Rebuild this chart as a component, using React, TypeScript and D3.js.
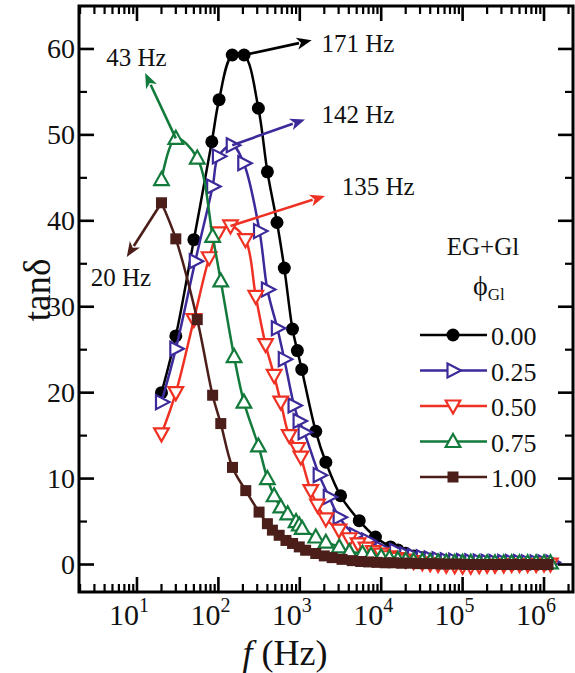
import React from "react";
import * as d3 from "d3";

// ---------- data ----------
const SERIES_NAMES = ["0.00", "0.25", "0.50", "0.75", "1.00"];

const F_000 = [20, 30, 50, 83, 102, 148, 207, 310, 400, 525, 645, 813, 933, 1057, 1570, 2090, 3170, 5370, 8500, 13000, 16000, 20000, 25000, 32000, 40000, 50000, 63000, 80000, 1e5, 1.26e5, 1.6e5, 2e5, 2.5e5, 3.2e5, 4e5, 5e5, 6.3e5, 8e5, 1e6, 1.2e6];
const V_000 = [20.0, 26.6, 37.8, 49.2, 54.1, 59.3, 59.3, 53.1, 45.7, 39.8, 34.5, 27.4, 24.9, 22.7, 15.5, 11.9, 8.0, 5.1, 3.2, 2.05, 1.7, 1.3, 1.0, 0.8, 0.6, 0.5, 0.4, 0.35, 0.3, 0.28, 0.25, 0.25, 0.22, 0.2, 0.2, 0.2, 0.18, 0.18, 0.15, 0.15];

const F_025 = [20, 30, 52, 85, 100, 148, 205, 320, 400, 530, 645, 850, 980, 1130, 1730, 2300, 3040, 4850, 6800, 10000, 15000, 20000, 25000, 32000, 40000, 50000, 63000, 80000, 1e5, 1.26e5, 1.6e5, 2e5, 2.5e5, 3.2e5, 4e5, 5e5, 6.3e5, 8e5, 1e6, 1.25e6];
const V_025 = [18.9, 25.1, 35.3, 44.0, 47.5, 48.8, 46.7, 38.8, 32.0, 27.5, 23.9, 18.5, 16.7, 15.4, 10.4, 7.85, 5.5, 3.4, 2.8, 1.86, 1.6, 1.2, 1.0, 0.85, 0.7, 0.6, 0.5, 0.45, 0.4, 0.38, 0.35, 0.32, 0.3, 0.3, 0.28, 0.28, 0.25, 0.25, 0.25, 0.25];

const F_050 = [20, 30, 50, 77, 100, 141, 215, 288, 380, 484, 583, 741, 940, 1030, 1365, 1650, 2090, 3030, 4060, 5200, 6500, 8000, 10000, 12600, 16000, 20000, 25000, 32000, 40000, 50000, 63000, 80000, 1e5, 1.26e5, 1.6e5, 2e5, 2.5e5, 3.2e5, 4e5, 5e5, 6.3e5, 8e5, 1e6, 1.2e6];
const V_050 = [15.2, 20.0, 28.5, 35.7, 38.6, 39.4, 37.8, 31.2, 25.6, 22.0, 18.9, 15.0, 13.5, 12.5, 8.6, 6.9, 5.3, 4.0, 3.0, 2.4, 1.9, 1.5, 1.2, 0.9, 0.7, 0.5, 0.35, 0.2, 0.1, 0.0, -0.1, -0.15, -0.2, -0.2, -0.15, -0.1, -0.1, -0.05, 0, 0, 0, 0, 0.05, 0.05];

const F_075 = [20, 30, 55, 85, 107, 156, 206, 310, 400, 484, 585, 710, 900, 985, 1070, 1570, 2090, 3050, 4060, 5900, 7500, 10000, 12600, 16000, 20000, 25000, 32000, 40000, 50000, 63000, 80000, 1e5, 1.26e5, 1.6e5, 2e5, 2.5e5, 3.2e5, 4e5, 5e5, 6.3e5, 8e5, 1e6, 1.2e6];
const V_075 = [44.8, 49.6, 47.3, 38.2, 33.0, 24.2, 18.9, 13.8, 10.0, 8.0, 6.7, 5.9, 5.0, 4.6, 4.2, 3.2, 2.6, 2.05, 1.5, 1.3, 1.1, 0.9, 0.75, 0.6, 0.5, 0.45, 0.4, 0.35, 0.3, 0.3, 0.25, 0.25, 0.25, 0.2, 0.2, 0.2, 0.2, 0.2, 0.2, 0.2, 0.2, 0.2, 0.2];

const F_100 = [20, 30, 55, 85, 107, 149, 217, 316, 400, 461, 558, 676, 815, 985, 1180, 1570, 2000, 2500, 3300, 4400, 5600, 7000, 8900, 11200, 14100, 17800, 22400, 28200, 35500, 44700, 56200, 70800, 89100, 1.12e5, 1.41e5, 1.78e5, 2.24e5, 2.82e5, 3.55e5, 4.47e5, 5.62e5, 7.08e5, 8.91e5, 1.12e6];
const V_100 = [42.1, 37.9, 28.5, 19.7, 16.4, 11.3, 8.6, 6.1, 4.75, 4.0, 3.4, 2.8, 2.45, 2.05, 1.66, 1.28, 1.0, 0.8, 0.6, 0.45, 0.35, 0.3, 0.25, 0.2, 0.2, 0.15, 0.15, 0.1, 0.1, 0.1, 0.05, 0.05, 0.05, 0, 0, 0, 0, 0, 0, 0, 0, 0, 0, 0];

const SERIES_F = [F_000, F_025, F_050, F_075, F_100];
const SERIES_V = [V_000, V_025, V_050, V_075, V_100];

// peak annotations: label, arrow start (f, v), arrow tip (f, v), label anchor (f, v)
const ANN_TEXT = ["171 Hz", "142 Hz", "135 Hz", "43 Hz", "20 Hz"];
const ANN_FROM_F = [207, 148, 141, 30, 20];
const ANN_FROM_V = [59.3, 48.8, 39.4, 49.6, 42.1];
const ANN_TIP_F = [1400, 1160, 2040, 12.6, 7.5];
const ANN_TIP_V = [61.0, 51.8, 42.9, 57.2, 35.8];
const ANN_LBL_F = [1850, 1850, 3270, 4.2, 2.7];
const ANN_LBL_V = [59.6, 51.4, 43.0, 58.0, 32.4];

const Y_TICKS = [0, 10, 20, 30, 40, 50, 60];
const Y_MINOR = [5, 15, 25, 35, 45, 55];
const X_DECADES = [1, 2, 3, 4, 5, 6];

// ---------- styles ----------
const COLORS = ["#000000", "#3d2a9a", "#ef3124", "#127a3b", "#4b1e19"];
const SHAPES = ["circle", "right", "down", "up", "square"];
const FONT = '"Liberation Serif", "Times New Roman", serif';

const W = 575;
const H = 673;
const L = 79, R = 573, T = 6, B = 592;

const x = d3.scaleLog().domain([1.94, 2.27e6]).range([L, R]);
const y = d3.scaleLinear().domain([-3.2, 65]).range([B, T]);

function Marker({ shape, color, cx, cy }: { shape: string; color: string; cx: number; cy: number }) {
  const sw = 2.2;
  if (shape === "circle") return <circle cx={cx} cy={cy} r={6.5} fill={color} />;
  if (shape === "square") return <rect x={cx - 5.5} y={cy - 5.5} width={11} height={11} fill={color} />;
  let pts: number[][] = [];
  if (shape === "right") pts = [[-5.5, -7], [8, 0], [-5.5, 7]];
  if (shape === "down") pts = [[-7.3, -5.5], [7.3, -5.5], [0, 7.5]];
  if (shape === "up") pts = [[-7.3, 5.5], [7.3, 5.5], [0, -7.5]];
  return (
    <polygon
      points={pts.map((p) => `${cx + p[0]},${cy + p[1]}`).join(" ")}
      fill="#fff"
      stroke={color}
      strokeWidth={sw}
      strokeLinejoin="miter"
    />
  );
}

function Arrow({ x1, y1, x2, y2, color }: { x1: number; y1: number; x2: number; y2: number; color: string }) {
  const a = Math.atan2(y2 - y1, x2 - x1);
  const hl = 15, hw = 6;
  const bx = x2 - hl * Math.cos(a), by = y2 - hl * Math.sin(a);
  const px = -Math.sin(a) * hw, py = Math.cos(a) * hw;
  return (
    <g>
      <line x1={x1} y1={y1} x2={bx + 2 * Math.cos(a)} y2={by + 2 * Math.sin(a)} stroke={color} strokeWidth={2.6} />
      <polygon points={`${x2},${y2} ${bx + px},${by + py} ${bx + 4 * Math.cos(a)},${by + 4 * Math.sin(a)} ${bx - px},${by - py}`} fill={color} />
    </g>
  );
}

export default function App() {
  const line = d3
    .line<[number, number]>()
    .x((d) => x(d[0]))
    .y((d) => y(d[1]))
    .curve(d3.curveCatmullRom.alpha(0.5));

  const series = SERIES_F.map((fs, i) => {
    const n = Math.min(fs.length, SERIES_V[i].length);
    const pts: [number, number][] = [];
    for (let k = 0; k < n; k++) pts.push([fs[k], SERIES_V[i][k]]);
    return pts;
  });

  const minor: number[] = [];
  [0, ...X_DECADES].forEach((d) => {
    for (let m = 2; m <= 9; m++) {
      const v = m * Math.pow(10, d);
      if (v > 1.94 && v < 2.27e6) minor.push(v);
    }
  });
  const majorX = X_DECADES.map((d) => Math.pow(10, d));

  const legendY = [335, 370.5, 406, 441.5, 477];

  return (
    <svg width={W} height={H} style={{ position: "absolute", left: 0, top: 0, background: "#fff" }} fontFamily={FONT}>
      <rect x={0} y={0} width={W} height={H} fill="#fff" />

      {/* series */}
      {series.map((pts, i) => (
        <g key={i}>
          <path d={line(pts) || ""} fill="none" stroke={COLORS[i]} strokeWidth={2.5} />
          {pts.map((p, k) => (
            <Marker key={k} shape={SHAPES[i]} color={COLORS[i]} cx={x(p[0])} cy={y(p[1])} />
          ))}
        </g>
      ))}

      {/* annotations */}
      {ANN_TEXT.map((t, i) => (
        <g key={t}>
          <Arrow x1={x(ANN_FROM_F[i])} y1={y(ANN_FROM_V[i])} x2={x(ANN_TIP_F[i])} y2={y(ANN_TIP_V[i])} color={COLORS[i]} />
          <text x={x(ANN_LBL_F[i])} y={y(ANN_LBL_V[i])} fontSize={25} fill="#111">
            {t}
          </text>
        </g>
      ))}

      {/* frame */}
      <rect x={L} y={T} width={R - L} height={B - T} fill="none" stroke="#000" strokeWidth={3} />

      {/* x ticks */}
      {majorX.map((v) => (
        <g key={"mx" + v}>
          <line x1={x(v)} x2={x(v)} y1={B} y2={B - 15} stroke="#000" strokeWidth={2.6} />
          <line x1={x(v)} x2={x(v)} y1={T} y2={T + 15} stroke="#000" strokeWidth={2.6} />
        </g>
      ))}
      {minor.map((v) => (
        <g key={"nx" + v}>
          <line x1={x(v)} x2={x(v)} y1={B} y2={B - 8} stroke="#000" strokeWidth={2.2} />
          <line x1={x(v)} x2={x(v)} y1={T} y2={T + 8} stroke="#000" strokeWidth={2.2} />
        </g>
      ))}
      {X_DECADES.map((d) => (
        <text key={"xl" + d} x={x(Math.pow(10, d)) - 8} y={625} fontSize={30} textAnchor="middle" fill="#111">
          10
          <tspan fontSize={20} dy={-13}>
            {d}
          </tspan>
        </text>
      ))}

      {/* y ticks */}
      {Y_TICKS.map((v) => (
        <g key={"my" + v}>
          <line x1={L} x2={L + 15} y1={y(v)} y2={y(v)} stroke="#000" strokeWidth={2.6} />
          <line x1={R} x2={R - 15} y1={y(v)} y2={y(v)} stroke="#000" strokeWidth={2.6} />
          <text x={75} y={y(v) + 9.5} fontSize={28} textAnchor="end" fill="#111">
            {v}
          </text>
        </g>
      ))}
      {Y_MINOR.map((v) => (
        <g key={"ny" + v}>
          <line x1={L} x2={L + 8} y1={y(v)} y2={y(v)} stroke="#000" strokeWidth={2.2} />
          <line x1={R} x2={R - 8} y1={y(v)} y2={y(v)} stroke="#000" strokeWidth={2.2} />
        </g>
      ))}

      {/* axis titles */}
      <text transform="translate(50,290) rotate(-90)" fontSize={37} textAnchor="middle" fill="#111">
        tanδ
      </text>
      <text x={285} y={665} fontSize={36} textAnchor="middle" fill="#111">
        <tspan fontStyle="italic">f</tspan> (Hz)
      </text>

      {/* legend */}
      <text x={483} y={255} fontSize={25} textAnchor="middle" fill="#111">
        EG+Gl
      </text>
      <text x={473} y={295} fontSize={28} fill="#111">
        ϕ
        <tspan fontSize={17} dy={5}>
          Gl
        </tspan>
      </text>
      {SERIES_NAMES.map((nm, i) => (
        <g key={nm}>
          <line x1={420} x2={487} y1={legendY[i]} y2={legendY[i]} stroke={COLORS[i]} strokeWidth={2.5} />
          <Marker shape={SHAPES[i]} color={COLORS[i]} cx={453} cy={legendY[i]} />
          <text x={491} y={legendY[i] + 10} fontSize={26} fill="#111">
            {nm}
          </text>
        </g>
      ))}
    </svg>
  );
}
